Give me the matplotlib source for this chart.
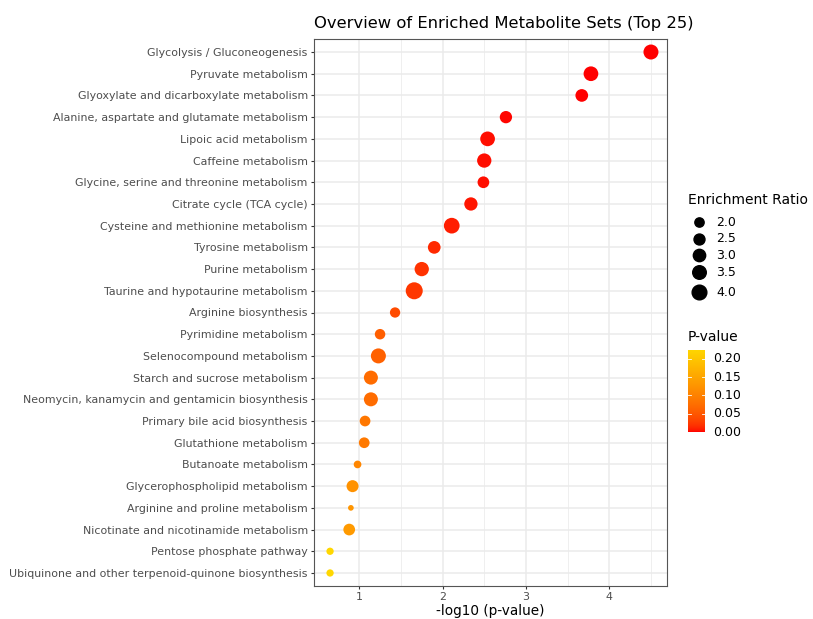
import numpy as np
import matplotlib
matplotlib.use('Agg')
import matplotlib.pyplot as plt
from matplotlib.colors import ListedColormap, Normalize

pathways = [
    'Glycolysis / Gluconeogenesis',
    'Pyruvate metabolism',
    'Glyoxylate and dicarboxylate metabolism',
    'Alanine, aspartate and glutamate metabolism',
    'Lipoic acid metabolism',
    'Caffeine metabolism',
    'Glycine, serine and threonine metabolism',
    'Citrate cycle (TCA cycle)',
    'Cysteine and methionine metabolism',
    'Tyrosine metabolism',
    'Purine metabolism',
    'Taurine and hypotaurine metabolism',
    'Arginine biosynthesis',
    'Pyrimidine metabolism',
    'Selenocompound metabolism',
    'Starch and sucrose metabolism',
    'Neomycin, kanamycin and gentamicin biosynthesis',
    'Primary bile acid biosynthesis',
    'Glutathione metabolism',
    'Butanoate metabolism',
    'Glycerophospholipid metabolism',
    'Arginine and proline metabolism',
    'Nicotinate and nicotinamide metabolism',
    'Pentose phosphate pathway',
    'Ubiquinone and other terpenoid-quinone biosynthesis',
]
neg_log_p = [4.50, 3.78, 3.67, 2.76, 2.54, 2.50, 2.49, 2.34, 2.11, 1.90,
             1.75, 1.66, 1.43, 1.25, 1.23, 1.14, 1.14, 1.07, 1.06, 0.98,
             0.92, 0.90, 0.88, 0.65, 0.65]
enrichment = [4.14, 4.00, 3.13, 2.98, 4.00, 3.81, 2.76, 3.38, 4.49, 3.13,
              3.81, 5.18, 2.29, 2.35, 4.14, 3.68, 3.68, 2.42, 2.42, 1.61,
              2.87, 1.26, 2.76, 1.53, 1.53]
legend_ratios = [2.0, 2.5, 3.0, 3.5, 4.0]
pval_ticks = [0.00, 0.05, 0.10, 0.15, 0.20]

DPI = 100


def srgb_to_lab(rgb):
    rgb = np.asarray(rgb, float)
    lin = np.where(rgb <= 0.04045, rgb / 12.92, ((rgb + 0.055) / 1.055) ** 2.4)
    M = np.array([[0.4124, 0.3576, 0.1805],
                  [0.2126, 0.7152, 0.0722],
                  [0.0193, 0.1192, 0.9505]])
    xyz = M @ lin / np.array([0.95047, 1.0, 1.08883])
    f = np.where(xyz > 0.008856, np.cbrt(xyz), 7.787 * xyz + 16 / 116)
    return np.array([116 * f[1] - 16, 500 * (f[0] - f[1]), 200 * (f[1] - f[2])])


def lab_to_srgb(lab):
    L, a, b = lab
    fy = (L + 16) / 116
    fx = fy + a / 500
    fz = fy - b / 200
    f = np.array([fx, fy, fz])
    xyz = np.where(f ** 3 > 0.008856, f ** 3, (f - 16 / 116) / 7.787)
    xyz = xyz * np.array([0.95047, 1.0, 1.08883])
    Minv = np.array([[3.2406, -1.5372, -0.4986],
                     [-0.9689, 1.8758, 0.0415],
                     [0.0557, -0.2040, 1.0570]])
    lin = np.clip(Minv @ xyz, 0, 1)
    rgb = np.where(lin <= 0.0031308, lin * 12.92, 1.055 * lin ** (1 / 2.4) - 0.055)
    return np.clip(rgb, 0, 1)


# red -> gold gradient interpolated in Lab, like ggplot
lo = srgb_to_lab([1.0, 0.0, 0.0])
hi = srgb_to_lab([1.0, 215 / 255, 0.0])
cmap = ListedColormap([lab_to_srgb(lo + t * (hi - lo)) for t in np.linspace(0, 1, 256)])

pvals = [10 ** (-v) for v in neg_log_p]
norm = Normalize(vmin=min(pvals), vmax=max(pvals))


def marker_area(ratio):
    # diameter in pixels -> scatter area in pt^2
    d_px = 1.92 + 7.38 * np.sqrt(np.asarray(ratio) - 1.0)
    d_pt = d_px * 72 / DPI
    return d_pt ** 2


fig = plt.figure(figsize=(8.13, 6.19), dpi=DPI)
ax = fig.add_axes([314 / 813, 1 - 586 / 619, 353 / 813, 547 / 619])

ypos = np.arange(len(pathways))
ax.scatter(neg_log_p, ypos, s=marker_area(enrichment), c=pvals, cmap=cmap, norm=norm,
           edgecolors='none', zorder=3)

ax.set_ylim(len(pathways) - 0.4, -0.6)
span = max(neg_log_p) - min(neg_log_p)
ax.set_xlim(min(neg_log_p) - 0.05 * span, max(neg_log_p) + 0.05 * span)
ax.set_yticks(ypos)
ax.set_yticklabels(pathways)
ax.set_xticks([1, 2, 3, 4])
ax.set_xticks([1.5, 2.5, 3.5, 4.5], minor=True)
ax.grid(True, which='major', color='#EBEBEB', lw=1.1, zorder=0)
ax.grid(True, which='minor', axis='x', color='#EBEBEB', lw=0.55, zorder=0)
ax.tick_params(which='major', length=2.5, width=0.8, color='#333333',
               labelcolor='#4D4D4D', labelsize=7.9, pad=2)
ax.tick_params(which='minor', length=0)
for sp in ax.spines.values():
    sp.set_color('#555555')
    sp.set_linewidth(0.8)
ax.set_xlabel('-log10 (p-value)', fontsize=9.8, labelpad=1)
ax.set_title('Overview of Enriched Metabolite Sets (Top 25)', fontsize=11.8, loc='left', pad=8)

# size legend
fig.text(688 / 813, 1 - 200 / 619, 'Enrichment Ratio', fontsize=10, va='center', ha='left')
legend_y = [222, 239, 255, 272, 292]
for r, yy in zip(legend_ratios, legend_y):
    fig.add_artist(plt.Line2D([699 / 813], [1 - yy / 619], marker='o', color='black',
                              markersize=np.sqrt(marker_area(r)), linestyle='none'))
    fig.text(716 / 813, 1 - yy / 619, f'{r:.1f}', fontsize=9, va='center', ha='left')

# colour legend
fig.text(688 / 813, 1 - 337 / 619, 'P-value', fontsize=10, va='center', ha='left')
cax = fig.add_axes([688 / 813, 1 - 432 / 619, 17 / 813, 82 / 619])
grad = np.linspace(norm.vmin, norm.vmax, 256).reshape(-1, 1)
cax.imshow(grad, aspect='auto', cmap=cmap, norm=norm, origin='lower',
           extent=[0, 1, norm.vmin, norm.vmax])
cax.set_xticks([])
cax.set_yticks([])
for sp in cax.spines.values():
    sp.set_visible(False)
for t in pval_ticks:
    cax.plot([0, 0.2], [t, t], color='white', lw=0.6)
    cax.plot([0.8, 1], [t, t], color='white', lw=0.6)
    cax.text(1.45, t, f'{t:.2f}', fontsize=9, va='center', ha='left',
             transform=cax.get_yaxis_transform())
cax.set_xlim(0, 1)
cax.set_ylim(norm.vmin, norm.vmax)

fig.savefig('out.png', dpi=DPI)
